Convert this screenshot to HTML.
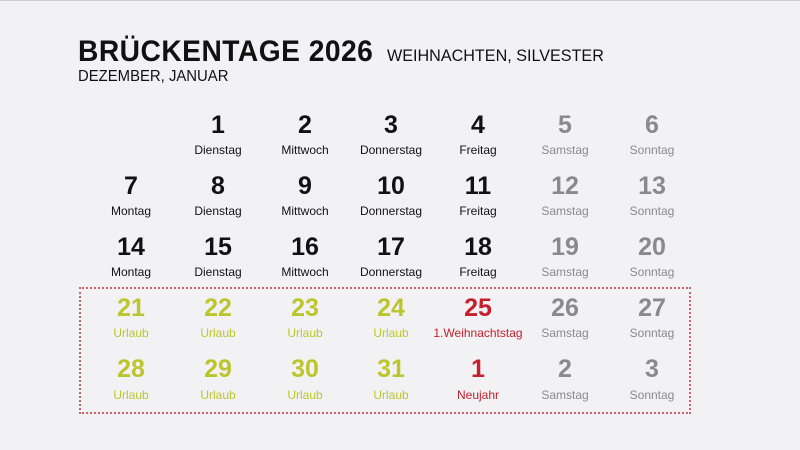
<!DOCTYPE html>
<html><head><style>
body{margin:0;width:800px;height:450px;background:#f2f2f4;font-family:"Liberation Sans",sans-serif;position:relative;overflow:hidden}
.t{position:absolute;white-space:nowrap}
.n{position:absolute;width:100px;text-align:center;font-weight:bold;font-size:25px;transform:translateX(-50%)}
.l{position:absolute;width:110px;text-align:center;font-size:12px;transform:translateX(-50%)}
.k{color:#111}.g{color:#8a8a8a}.y{color:#bcc62c}.r{color:#c4202e}
</style></head><body>
<div style="position:absolute;left:0;top:0;width:800px;height:1px;background:#ccc"></div>
<div class="t" style="left:78px;top:35px;font-size:30px;font-weight:bold;transform:scaleX(0.94);transform-origin:left;letter-spacing:0.5px;color:#111">BRÜCKENTAGE 2026</div>
<div class="t" style="left:387px;top:46px;font-size:17px;color:#111;transform:scaleX(0.95);transform-origin:left">WEIHNACHTEN, SILVESTER</div>
<div class="t" style="left:78px;top:68px;font-size:16px;color:#111;transform:scaleX(0.93);transform-origin:left">DEZEMBER, JANUAR</div>
<div style="position:absolute;left:79px;top:287px;width:608px;height:123px;border:2px dotted #d0606a"></div>
<div id="g"></div>
<script>
var xs=[131,218,305,391,478,565,652],ny=[111,172,233,294,355],ly=[143,204,265,326,388];
var D=["Montag","Dienstag","Mittwoch","Donnerstag","Freitag","Samstag","Sonntag"];
var rows=[
[null,1,2,3,4,5,6],[7,8,9,10,11,12,13],[14,15,16,17,18,19,20],
[21,22,23,24,25,26,27],[28,29,30,31,1,2,3]];
var h="";
rows.forEach(function(r,i){r.forEach(function(n,j){if(n===null)return;
var c=j>=5?"g":"k",lab=D[j];
if(i>=3&&j<4){c="y";lab="Urlaub"}
if(i==3&&j==4){c="r";lab="1.Weihnachtstag"}
if(i==4&&j==4){c="r";lab="Neujahr"}
h+='<div class="n '+c+'" style="left:'+xs[j]+'px;top:'+ny[i]+'px">'+n+'</div>';
h+='<div class="l '+c+'" style="left:'+xs[j]+'px;top:'+ly[i]+'px">'+lab+'</div>';
})});
document.getElementById("g").innerHTML=h;
</script>
</body></html>
